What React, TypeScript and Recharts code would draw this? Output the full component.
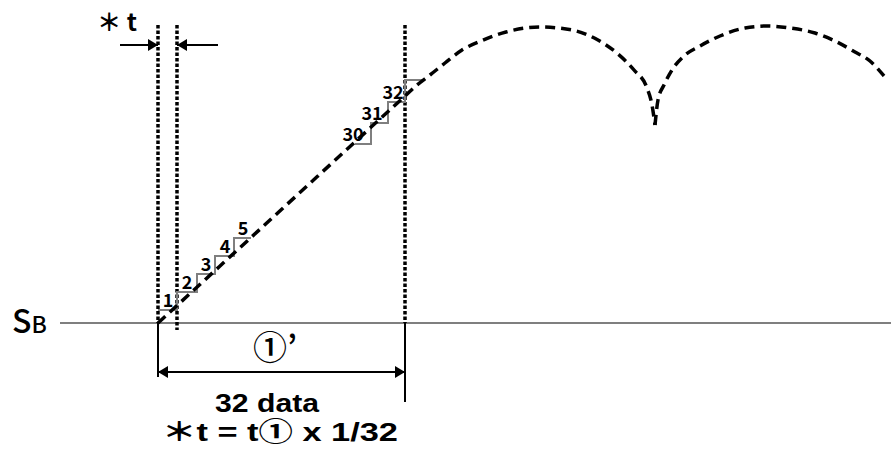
import React from "react";
import { LineChart, Line, XAxis, YAxis, ReferenceLine, ReferenceDot } from "recharts";

const W = 891;
const H = 450;
const FONT = '"Noto Sans CJK JP", "Noto Sans", sans-serif';
const FONT_LATIN = '"Liberation Sans", "Noto Sans CJK JP", sans-serif';
const INK = "#000";
const GREY = "#7f7f7f";

// Signal: straight ramp over the 32 data, then the humps (x = time, y = level above SB)
const RAMP_X = [158, 282, 405, 417, 430, 445, 462, 481, 506, 540, 572, 598, 618, 634, 647, 652, 655];
const RAMP_Y = [0, 114, 227, 238, 248, 260, 273, 282, 291, 296, 293, 283, 269, 253, 235, 218, 198];
const HUMP_X = [655, 658, 664, 672, 684, 700, 720, 745, 767, 790, 815, 835, 855, 870, 884];
const HUMP_Y = [198, 223, 238, 253, 267, 277, 287, 295, 297, 295, 290, 282, 271, 262, 247];

// sampled staircase: first five steps and last three
const STEP_A_X = [158, 177, 197, 215, 234, 251];
const STEP_A_Y = [13, 31, 49, 67, 85, 85];
const STEP_B_X = [355, 371, 388, 405, 423];
const STEP_B_Y = [179, 200, 221, 243, 243];

const LABEL_A = ["1", "2", "3", "4", "5"];
const LABEL_A_X = [168, 187, 206, 225, 243];
const LABEL_B = ["30", "31", "32"];
const LABEL_B_X = [353, 372, 393];

// time marks
const T_START = 158;
const T_NEXT = 177; // start + *t
const T_END = 405; // start + 32 data
const GUIDE_TOP = 298;
const BASE_FROM = 60;

const zip = (xs: number[], ys: number[]) => xs.map((x, i) => ({ x, y: ys[i] }));

const ramp = zip(RAMP_X, RAMP_Y);
const hump = zip(HUMP_X, HUMP_Y);
const stepsA = zip(STEP_A_X, STEP_A_Y);
const stepsB = zip(STEP_B_X, STEP_B_Y);

const labels = [
  ...LABEL_A.map((t, i) => ({ t, x: LABEL_A_X[i], y: STEP_A_Y[i] })),
  ...LABEL_B.map((t, i) => ({ t, x: LABEL_B_X[i], y: STEP_B_Y[i] })),
];

type TxtOpts = {
  size: number;
  weight?: number;
  anchor?: "start" | "middle" | "end";
  len?: number;
  dy?: number;
  family?: string;
};

const textShape = (txt: React.ReactNode, o: TxtOpts) => (p: any) => (
  <text
    x={p.cx}
    y={p.cy + (o.dy ?? 0)}
    fontFamily={o.family ?? FONT}
    fontSize={o.size}
    fontWeight={o.weight ?? 700}
    textAnchor={o.anchor ?? "middle"}
    fill={INK}
    textLength={o.len}
    lengthAdjust={o.len ? "spacingAndGlyphs" : undefined}
  >
    {txt}
  </text>
);

const head = (dir: "left" | "right") => (p: any) => {
  const s = dir === "right" ? -1 : 1;
  return (
    <polygon
      points={`${p.cx},${p.cy} ${p.cx + s * 10},${p.cy - 6} ${p.cx + s * 10},${p.cy + 6}`}
      fill={INK}
    />
  );
};

const dashed = { stroke: INK, strokeWidth: 3.5, strokeDasharray: "10 6" };
const dotted = { stroke: INK, strokeWidth: 3.5, strokeDasharray: "3.5 2" };
const seriesBase = { dot: false, activeDot: false, isAnimationActive: false } as const;

export default function App() {
  return (
    <div style={{ position: "absolute", left: 0, top: 0, width: W, height: H, background: "#fff" }}>
      <LineChart width={W} height={H} margin={{ top: 0, right: 0, bottom: 0, left: 0 }}>
        <XAxis type="number" dataKey="x" domain={[0, W]} allowDataOverflow hide />
        <YAxis type="number" domain={[-127, 323]} allowDataOverflow hide />

        {/* SB baseline */}
        <ReferenceLine segment={[{ x: BASE_FROM, y: 0 }, { x: W, y: 0 }]} stroke={GREY} strokeWidth={2} />

        {/* dotted time guides */}
        <ReferenceLine segment={[{ x: T_START, y: GUIDE_TOP }, { x: T_START, y: 0 }]} {...dotted} />
        <ReferenceLine segment={[{ x: T_NEXT, y: GUIDE_TOP }, { x: T_NEXT, y: -7 }]} {...dotted} />
        <ReferenceLine segment={[{ x: T_END, y: GUIDE_TOP }, { x: T_END, y: 0 }]} {...dotted} />

        {/* solid extension lines + dimension arrows */}
        <ReferenceLine segment={[{ x: T_START, y: 0 }, { x: T_START, y: -54 }]} stroke={INK} strokeWidth={2} />
        <ReferenceLine segment={[{ x: T_END, y: 0 }, { x: T_END, y: -79 }]} stroke={INK} strokeWidth={2} />
        <ReferenceLine segment={[{ x: T_START, y: -49 }, { x: T_END, y: -49 }]} stroke={INK} strokeWidth={2} />
        <ReferenceLine segment={[{ x: 120, y: 278 }, { x: T_START, y: 278 }]} stroke={INK} strokeWidth={2} />
        <ReferenceLine segment={[{ x: 218, y: 278 }, { x: T_NEXT, y: 278 }]} stroke={INK} strokeWidth={2} />

        <Line data={stepsA} dataKey="y" type="stepAfter" stroke={GREY} strokeWidth={2} {...seriesBase} />
        <Line data={stepsB} dataKey="y" type="stepAfter" stroke={GREY} strokeWidth={2} {...seriesBase} />
        <Line data={ramp} dataKey="y" type="monotone" {...dashed} {...seriesBase} />
        <Line data={hump} dataKey="y" type="monotone" {...dashed} {...seriesBase} />

        <ReferenceDot x={T_START} y={-49} shape={head("left")} />
        <ReferenceDot x={T_END} y={-49} shape={head("right")} />
        <ReferenceDot x={T_START} y={278} shape={head("right")} />
        <ReferenceDot x={T_NEXT} y={278} shape={head("left")} />

        {labels.map((l) => (
          <ReferenceDot key={l.t} x={l.x} y={l.y} shape={textShape(l.t, { size: 18, dy: -3 })} />
        ))}

        <ReferenceDot
          x={12}
          y={-10}
          shape={(p: any) => (
            <text x={p.cx} y={p.cy} fontFamily={FONT} fontWeight={500} fill={INK}>
              <tspan fontSize={32}>S</tspan>
              <tspan fontSize={23}>B</tspan>
            </text>
          )}
        />
        <ReferenceDot x={97} y={292} shape={textShape("＊ t", { size: 24, anchor: "start", len: 40 })} />
        <ReferenceDot x={253} y={-37} shape={textShape("①’", { size: 34, anchor: "start", weight: 500 })} />
        <ReferenceDot
          x={267}
          y={-89}
          shape={textShape("32 data", { size: 26, len: 104, family: FONT_LATIN })}
        />
        <ReferenceDot
          x={280}
          y={-118}
          shape={textShape("＊t = t① x 1/32", { size: 26, len: 236, family: FONT_LATIN })}
        />
      </LineChart>
    </div>
  );
}
